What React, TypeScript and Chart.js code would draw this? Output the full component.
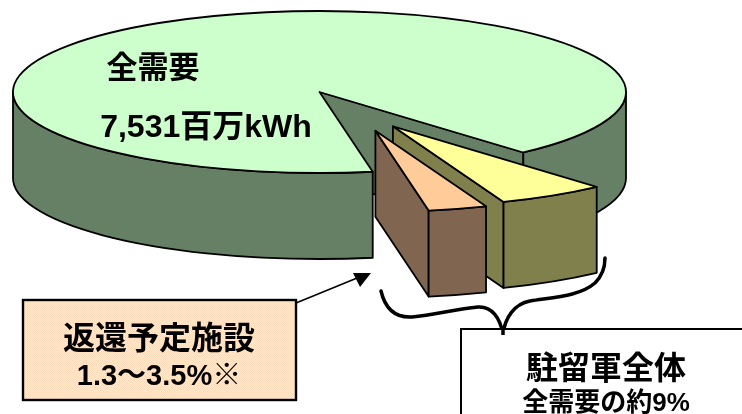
import React, { useEffect, useRef } from "react";
import { Chart, registerables } from "chart.js";

Chart.register(...registerables);

const categories = ["全需要", "駐留軍(その他)", "返還予定施設"];
const shares = [91.2, 5.7, 3.1];
const totalLabel = "7,531百万kWh";
const returnLabel = "返還予定施設";
const returnRange = "1.3～3.5%※";
const forcesLabel = "駐留軍全体";
const forcesShare = "全需要の約9%";

const topColors = ["#CCFFCC", "#FFFF99", "#FFCC99"];
const wallColors = ["#668066", "#80804D", "#806650"];
const explode = [0, 82, 82];
const nudge = [
  [0, 0],
  [-6, 0],
  [15, 0],
];
const CX = 319.5;
const CY = 92;
const RX = 306.5;
const RY = 81;
const DEPTH = 86;
const FONT = '"Liberation Sans","Noto Sans CJK JP",sans-serif';

function drawPie(chart: any) {
  const ctx: CanvasRenderingContext2D = chart.ctx;
  const arcs = chart.getDatasetMeta(0).data;
  ctx.save();
  ctx.lineJoin = "round";
  ctx.lineWidth = 1.8;
  ctx.strokeStyle = "#000";
  arcs.forEach((arc: any, i: number) => {
    const R = arc.outerRadius;
    const a0 = arc.startAngle;
    const a1 = arc.endAngle;
    const mid = (a0 + a1) / 2;
    const off = arc.options.offset || 0;
    const cx = CX + (Math.cos(mid) * off * RX) / R + nudge[i][0];
    const cy = CY + (Math.sin(mid) * off * RY) / R + nudge[i][1];
    const px = (a: number) => cx + RX * Math.cos(a);
    const py = (a: number) => cy + RY * Math.sin(a);
    const face = (a: number) => {
      ctx.beginPath();
      ctx.moveTo(cx, cy);
      ctx.lineTo(px(a), py(a));
      ctx.lineTo(px(a), py(a) + DEPTH);
      ctx.lineTo(cx, cy + DEPTH);
      ctx.closePath();
      ctx.fillStyle = wallColors[i];
      ctx.fill();
      ctx.stroke();
    };
    if (Math.cos(a0) < 0) face(a0);
    if (Math.cos(a1) > 0) face(a1);
    [0, 2 * Math.PI].forEach((k) => {
      const t0 = Math.max(a0, k);
      const t1 = Math.min(a1, k + Math.PI);
      if (t1 <= t0) return;
      ctx.beginPath();
      ctx.ellipse(cx, cy, RX, RY, 0, t0, t1);
      ctx.ellipse(cx, cy + DEPTH, RX, RY, 0, t1, t0, true);
      ctx.closePath();
      ctx.fillStyle = wallColors[i];
      ctx.fill();
      ctx.stroke();
    });
    ctx.beginPath();
    ctx.moveTo(cx, cy);
    ctx.ellipse(cx, cy, RX, RY, 0, a0, a1);
    ctx.closePath();
    ctx.fillStyle = topColors[i];
    ctx.fill();
    ctx.stroke();
  });
  ctx.restore();
}

function label(ctx: CanvasRenderingContext2D, text: string, x: number, y: number, size: number) {
  ctx.font = `bold ${size}px ${FONT}`;
  ctx.fillStyle = "#000";
  ctx.textAlign = "center";
  ctx.textBaseline = "middle";
  ctx.fillText(text, x, y);
}

function drawNotes(chart: any) {
  const ctx: CanvasRenderingContext2D = chart.ctx;
  ctx.save();
  label(ctx, categories[0], 153, 69, 31);
  label(ctx, totalLabel, 206, 128, 32);

  // arrow
  ctx.strokeStyle = "#000";
  ctx.fillStyle = "#000";
  ctx.lineWidth = 1.6;
  ctx.beginPath();
  ctx.moveTo(296, 303);
  ctx.lineTo(362, 276);
  ctx.stroke();
  ctx.beginPath();
  ctx.moveTo(371, 273);
  ctx.lineTo(353, 273);
  ctx.lineTo(360, 287);
  ctx.closePath();
  ctx.fill();

  // brace
  ctx.lineWidth = 3.5;
  ctx.lineCap = "round";
  ctx.beginPath();
  ctx.moveTo(381, 291);
  ctx.bezierCurveTo(385, 308, 395, 318, 412, 317);
  ctx.bezierCurveTo(435, 315, 455, 309, 478, 307);
  ctx.bezierCurveTo(492, 306, 500, 318, 503, 334);
  ctx.bezierCurveTo(505, 318, 514, 304, 530, 301);
  ctx.bezierCurveTo(555, 297, 580, 296, 595, 283);
  ctx.bezierCurveTo(602, 276, 605, 268, 605, 258);
  ctx.stroke();

  // return box
  const tile = document.createElement("canvas");
  tile.width = 2;
  tile.height = 2;
  const t = tile.getContext("2d")!;
  t.fillStyle = "#FFEAD8";
  t.fillRect(0, 0, 2, 2);
  t.fillStyle = "#FFDCBC";
  t.fillRect(0, 0, 1, 1);
  t.fillRect(1, 1, 1, 1);
  ctx.fillStyle = ctx.createPattern(tile, "repeat")!;
  ctx.fillRect(23, 300, 273, 100);
  ctx.lineCap = "butt";
  ctx.lineWidth = 2.4;
  ctx.strokeRect(23, 300, 273, 100);
  label(ctx, returnLabel, 159, 340, 32);
  label(ctx, returnRange, 159, 377, 29);

  // forces box
  ctx.fillStyle = "#fff";
  ctx.fillRect(461, 329, 300, 100);
  ctx.lineWidth = 2;
  ctx.strokeRect(461, 329, 300, 100);
  label(ctx, forcesLabel, 606, 370, 32);
  label(ctx, forcesShare, 606, 404, 26);

  // brace tip over the box border
  ctx.lineWidth = 3.5;
  ctx.beginPath();
  ctx.moveTo(503, 326);
  ctx.lineTo(503, 335);
  ctx.stroke();
  ctx.restore();
}

const pie3d = {
  id: "pie3d",
  beforeDatasetsDraw(chart: any) {
    drawPie(chart);
    return false;
  },
  afterDraw(chart: any) {
    drawNotes(chart);
  },
};

export default function App() {
  const ref = useRef<HTMLCanvasElement | null>(null);
  useEffect(() => {
    const chart = new Chart(ref.current!, {
      type: "pie",
      data: {
        labels: categories,
        datasets: [
          {
            data: shares,
            backgroundColor: topColors,
            borderColor: "#000",
            borderWidth: 2,
            offset: explode,
          },
        ],
      },
      options: {
        responsive: false,
        animation: false,
        rotation: 170,
        layout: { padding: 0 },
        plugins: { legend: { display: false }, tooltip: { enabled: false } },
      },
      plugins: [pie3d],
    } as any);
    return () => chart.destroy();
  }, []);
  return (
    <div style={{ position: "fixed", left: 0, top: 0, width: 742, height: 414, background: "#fff" }}>
      <canvas ref={ref} width={742} height={414} style={{ display: "block" }} />
    </div>
  );
}
